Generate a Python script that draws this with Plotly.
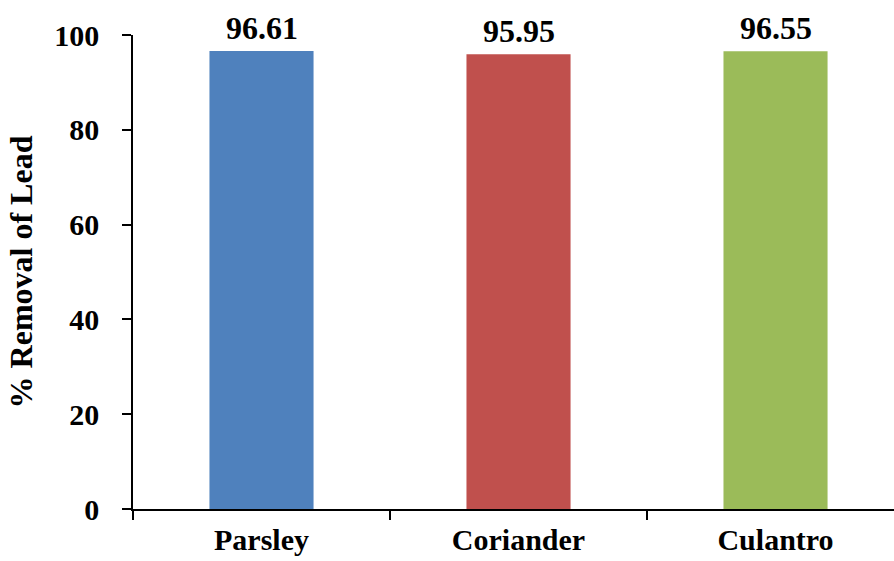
import plotly.graph_objects as go

# Lead removal efficiency by herb adsorbent
herbs = ["Parsley", "Coriander", "Culantro"]
removal = [96.61, 95.95, 96.55]
bar_colors = ["#4F81BD", "#C0504D", "#9BBB59"]
y_ticks = [0, 20, 40, 60, 80, 100]

font_family = "Liberation Serif, Times New Roman, serif"

fig = go.Figure()
fig.add_trace(go.Bar(
    x=herbs,
    y=removal,
    marker=dict(color=bar_colors, line=dict(width=0)),
    width=0.405,
    showlegend=False,
    hoverinfo="x+y",
))

# value labels above each bar
for h, v in zip(herbs, removal):
    fig.add_annotation(
        x=h, y=v, text=f"<b>{v:.2f}</b>", showarrow=False,
        yanchor="bottom", yshift=3,
        font=dict(family=font_family, size=32, color="black"),
    )

fig.update_layout(
    width=894, height=561,
    margin=dict(l=133, r=0, t=35, b=52),
    plot_bgcolor="white", paper_bgcolor="white",
    font=dict(family=font_family, size=30, color="black"),
    bargap=0.6,
)
fig.update_xaxes(
    type="category",
    range=[-0.5, 2.461],
    automargin=False,
    showline=True, linecolor="black", linewidth=1.5,
    ticks="outside", tickson="boundaries", ticklen=9, tickwidth=1.5, tickcolor="black",
    tickvals=herbs, ticktext=[f"<b>{h}</b>" for h in herbs],
    tickfont=dict(family=font_family, size=30, color="black"),
    ticklabelstandoff=3,
    showgrid=False, zeroline=False,
)
fig.update_yaxes(
    range=[0, 100],
    automargin=False,
    tickvals=y_ticks, ticktext=[f"<b>{t}</b>" for t in y_ticks],
    showline=True, linecolor="black", linewidth=1.5,
    ticks="outside", ticklen=9, tickwidth=1.5, tickcolor="black",
    tickfont=dict(family=font_family, size=30, color="black"),
    ticklabelstandoff=17,
    showgrid=False, zeroline=False,
    title=dict(text="<b>% Removal of Lead</b>", standoff=12,
               font=dict(family=font_family, size=32, color="black")),
)
fig.update_traces(cliponaxis=False)

fig.write_html("out.html")
